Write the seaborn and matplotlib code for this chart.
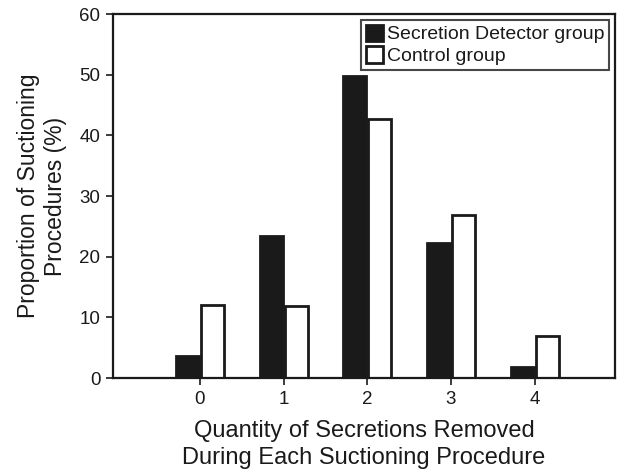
import matplotlib
matplotlib.use("Agg")
import matplotlib.pyplot as plt
import seaborn as sns
import pandas as pd

categories = ["0", "1", "2", "3", "4"]
groups = ["Secretion Detector group", "Control group"]
detector_values = [3.6, 23.4, 49.8, 22.2, 1.8]
control_values = [12.1, 11.9, 42.7, 26.9, 6.9]

df = pd.DataFrame({
    "quantity": categories * 2,
    "group": [groups[0]] * len(categories) + [groups[1]] * len(categories),
    "value": detector_values + control_values,
})

sns.set_theme(style="white")
plt.rcParams["font.family"] = ["Liberation Sans", "DejaVu Sans"]

dark = "#1a1a1a"
fig = plt.figure(figsize=(6.27, 4.75), dpi=100)
ax = fig.add_axes([0.180, 0.204, 0.801, 0.7665])

sns.barplot(
    data=df, x="quantity", y="value", hue="group", order=categories,
    hue_order=groups, palette={groups[0]: dark, groups[1]: "white"},
    width=0.6, gap=0.08, edgecolor=dark, linewidth=2, ax=ax,
)

ax.set_xlim(-1.04, 4.96)
ax.set_ylim(0, 60)
ax.set_yticks([0, 10, 20, 30, 40, 50, 60])
for s in ax.spines.values():
    s.set_color(dark)
    s.set_linewidth(1.6)
ax.tick_params(axis="both", direction="out", length=5, width=1.2, color=dark,
               labelsize=13.5, labelcolor=dark, bottom=True, left=True, pad=4)

ax.set_xlabel("Quantity of Secretions Removed\nDuring Each Suctioning Procedure",
              fontsize=17, color=dark, labelpad=9, linespacing=1.3)
ax.set_ylabel("Proportion of Suctioning\nProcedures (%)",
              fontsize=16.5, color=dark, labelpad=9, linespacing=1.2)

leg = ax.legend(loc="upper right", fontsize=14, frameon=True, fancybox=False,
                edgecolor=dark, handlelength=0.9, handleheight=0.9,
                handletextpad=0.2, borderpad=0.25, labelspacing=0.15,
                borderaxespad=0.3)
leg.get_frame().set_linewidth(1.5)
for t in leg.get_texts():
    t.set_color(dark)

fig.savefig("out.png", dpi=100)
